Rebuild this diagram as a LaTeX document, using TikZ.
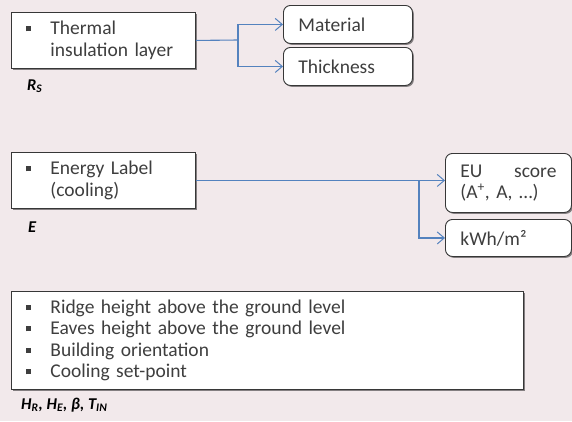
\documentclass[tikz,border=0pt]{standalone}
\usepackage{fontspec}
\setmainfont{Carlito}
\usetikzlibrary{shadows,arrows.meta}

\definecolor{bg}{RGB}{242,233,235}
\definecolor{ink}{RGB}{62,62,62}
\definecolor{frame}{RGB}{55,55,55}
\definecolor{link}{RGB}{84,130,190}

% square bullet followed by the item text
\newcommand\sqbul{\makebox[24pt][l]{\rule[3.5pt]{5pt}{5pt}}}
\newcommand\indentitem{\hspace*{24pt}}

\tikzset{
  x=1pt, y=-1pt,
  boxtext/.style={font=\fontsize{19.5}{21.5}\selectfont, text=ink},
  card/.style={draw=frame, line width=0.9pt, fill=white,
    drop shadow={shadow xshift=1.4pt, shadow yshift=-1.4pt, opacity=0.45, fill=black}},
  listbox/.style={card, boxtext, rectangle, anchor=north west, align=left,
    inner xsep=15pt, inner ysep=0pt},
  choice/.style={card, boxtext, rectangle, rounded corners=7pt, anchor=north west,
    align=left, inner xsep=15pt, inner ysep=0pt},
  tag/.style={anchor=west, inner sep=0pt, font=\fontsize{16.5}{18}\selectfont\bfseries\itshape, text=black},
  link/.style={draw=link, line width=1.1pt},
  arrowlink/.style={link, -{Straight Barb[length=7pt, width=12pt, line width=1pt]}},
}

\begin{document}
\begin{tikzpicture}
  \useasboundingbox (0,0) rectangle (572,421);
  \fill[bg] (0,0) rectangle (572,421);

  % --- thermal insulation group ---
  \node[listbox, text width=154pt, minimum height=56pt] (b1) at (11,12)
    {\sqbul Thermal\\\indentitem insulation layer};
  \node[tag] (rs) at (27,86) {R\textsubscript{S}};

  \node[choice, text width=99pt, minimum height=38pt] (mat) at (283,5) {Material};
  \node[choice, text width=99pt, minimum height=38pt] (thk) at (283,47) {Thickness};

  \coordinate (j1) at (238,40);
  \draw[link] (b1.east) -- (j1);
  \draw[arrowlink] (j1) |- (mat.west);
  \draw[arrowlink] (j1) |- (thk.west);

  % --- energy label group ---
  \node[listbox, text width=154pt, minimum height=56pt] (b2) at (11,152)
    {\sqbul Energy Label\\\indentitem (cooling)};
  \node[tag] (e) at (28,227) {E};

  \node[choice, text width=96pt, minimum height=59pt] (eu) at (445,153)
    {EU\hfill score\\(A\textsuperscript{+}, A, …)};
  \node[choice, text width=96pt, minimum height=37pt] (kwh) at (445,219) {kWh/m²};

  \coordinate (j2) at (419,180);
  \draw[arrowlink] (b2.east) -- (b2.east -| eu.west);
  \draw[arrowlink] (j2) |- (kwh.west);

  % --- geometry and set-point group ---
  \node[listbox, text width=482pt, minimum height=98pt] (b3) at (11,291)
    {\sqbul Ridge height above the ground level\\
     \sqbul Eaves height above the ground level\\
     \sqbul Building orientation\\
     \sqbul Cooling set-point};
  \node[tag] (hb) at (21,405)
    {H\textsubscript{R}, H\textsubscript{E}, β, T\textsubscript{IN}};
\end{tikzpicture}
\end{document}
